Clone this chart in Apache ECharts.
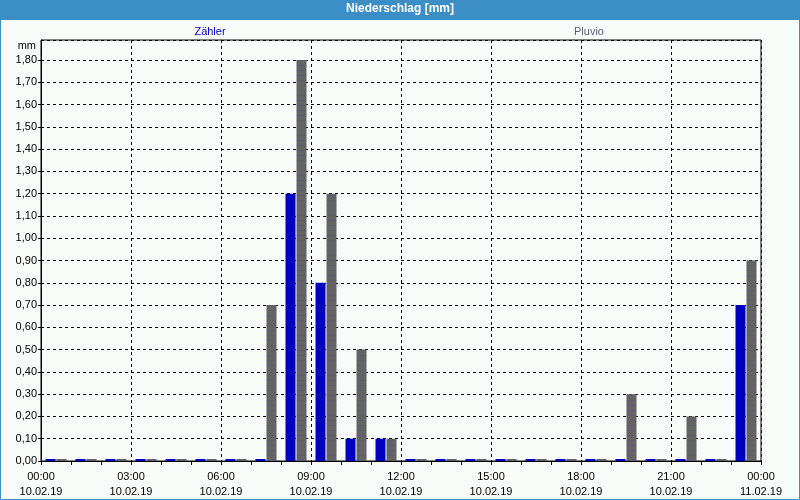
<!DOCTYPE html>
<html>
<head>
<meta charset="utf-8">
<script src="https://cdn.jsdelivr.net/npm/echarts@6/dist/echarts.min.js"></script>
<style>
html,body{margin:0;padding:0;background:#f8fcf8;}
#c{width:800px;height:500px;}
</style>
</head>
<body>
<div id="c"></div>
<script>
var hours = ['00','01','02','03','04','05','06','07','08','09','10','11','12','13','14','15','16','17','18','19','20','21','22','23'];
var zaehler = [0,0,0,0,0,0,0,0,1.2,0.8,0.1,0.1,0,0,0,0,0,0,0,0,0,0,0,0.7];
var pluvio  = [0,0,0,0,0,0,0,0.7,1.8,1.2,0.5,0.1,0,0,0,0,0,0,0,0.3,0,0.2,0,0.9];
var timeLabels = ['00:00','03:00','06:00','09:00','12:00','15:00','18:00','21:00','00:00'];
var dateLabels = ['10.02.19','10.02.19','10.02.19','10.02.19','10.02.19','10.02.19','10.02.19','10.02.19','11.02.19'];

var FONT = 'Liberation Sans';
var chart = echarts.init(document.getElementById('c'), null, {renderer:'canvas'});
chart.setOption({
  backgroundColor: '#f8fcf8',
  animation: false,
  textStyle: {fontFamily: FONT},
  grid: {left: 41, right: 39, top: 40, bottom: 39, show: true, borderColor: '#000', borderWidth: 1, backgroundColor: 'transparent'},
  xAxis: [{
    type: 'category',
    data: hours,
    boundaryGap: true,
    axisLine: {lineStyle: {color: '#000'}},
    axisTick: {show: true, interval: 0, length: 4, lineStyle: {color: '#000'}},
    axisLabel: {show: false},
    splitLine: {show: false}
  }, {
    type: 'value',
    position: 'bottom',
    min: 0, max: 24, interval: 3,
    axisLine: {show: false},
    axisTick: {show: false},
    axisLabel: {
      show: true, color: '#000', fontSize: 11, fontFamily: FONT, margin: 8, lineHeight: 15,
      showMinLabel: true, showMaxLabel: true,
      formatter: function(v){ var i = Math.round(v/3); return timeLabels[i] + '\n' + dateLabels[i]; }
    },
    splitLine: {show: true, lineStyle: {color: '#000', type: [3,3], width: 1}}
  }],
  yAxis: {
    type: 'value',
    min: 0, max: 1.89, interval: 0.1,
    axisLine: {show: true, lineStyle: {color: '#000'}},
    axisTick: {show: true, length: 3, lineStyle: {color: '#000'}},
    axisLabel: {
      color: '#000', fontSize: 11, fontFamily: FONT, margin: 4, showMaxLabel: false,
      formatter: function(v){ if (Math.abs(v*10 - Math.round(v*10)) > 0.01) return ''; return v.toFixed(2).replace('.', ','); }
    },
    splitLine: {show: true, lineStyle: {color: '#000', type: [3,3], width: 1}}
  },
  series: [{
    name: 'Zähler',
    type: 'bar',
    xAxisIndex: 0,
    data: zaehler,
    barWidth: 10,
    barGap: '10%',
    barMinHeight: 2,
    itemStyle: {color: '#0000c0'}
  }, {
    name: 'Pluvio',
    type: 'bar',
    xAxisIndex: 0,
    data: pluvio,
    barWidth: 10,
    barGap: '10%',
    barMinHeight: 2,
    itemStyle: {
      color: '#646464',
      decal: {symbol: 'rect', symbolSize: 0.35, color: '#3a3a8a', dashArrayX: [[1,0],[1,0]], dashArrayY: [1,4], rotation: 0, symbolKeepAspect: true}
    }
  }],
  graphic: [
    {type: 'rect', left: 0, top: 0, shape: {width: 800, height: 20}, style: {fill: '#3c8ec6'}, z: 10},
    {type: 'text', left: 'center', top: 3, style: {text: 'Niederschlag [mm]', fill: '#fff', font: 'bold 12px "Liberation Sans"'}, z: 11},
    {type: 'rect', shape: {x: 0.5, y: 0.5, width: 799, height: 499}, style: {fill: 'none', stroke: '#3c8ec6', lineWidth: 1}, z: 10},
    {type: 'text', x: 210, y: 26, style: {text: 'Zähler', fill: '#0000c0', font: '11px "Liberation Sans"', align: 'center'}, z: 11},
    {type: 'text', x: 589, y: 26, style: {text: 'Pluvio', fill: '#5a5a80', font: '11px "Liberation Sans"', align: 'center'}, z: 11},
    {type: 'text', x: 36, y: 40, style: {text: 'mm', fill: '#000', font: '11px "Liberation Sans"', align: 'right'}, z: 11}
  ]
});
</script>
</body>
</html>
